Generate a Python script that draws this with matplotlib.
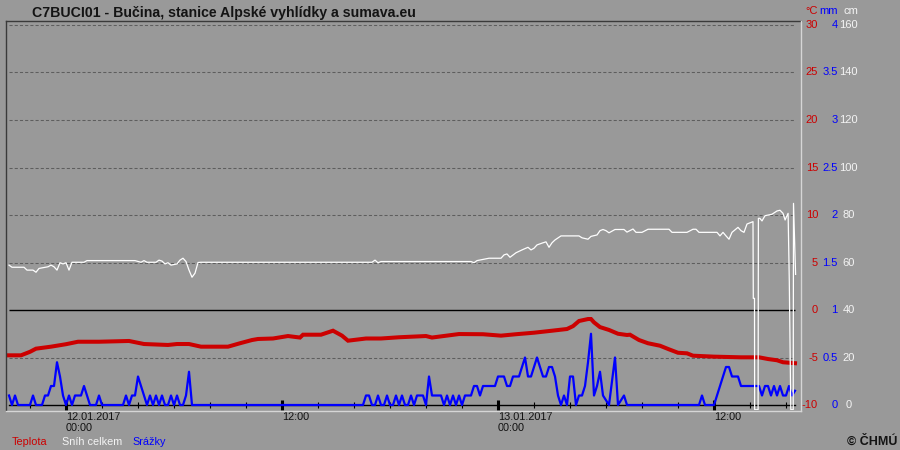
import numpy as np
import pandas as pd
import matplotlib
matplotlib.use('Agg')
import matplotlib.pyplot as plt
import matplotlib.dates as mdates
import matplotlib.transforms as mtransforms
from matplotlib.lines import Line2D

plt.rcParams['font.family'] = ['Liberation Sans', 'DejaVu Sans']

BG = '#999999'
RED = '#cc0000'
BLUE = '#0000ff'
SNOW = '#ffffff'

# 10-minute records starting 11.01.2017 20:50
start = pd.Timestamp('2017-01-11 20:50')

# precipitation in tenths of mm per 10 min
precip_tenths = [
    1, 0, 1, 0, 0, 0, 0, 0, 1, 0,
    0, 0, 1, 1, 2, 2, 4.5, 3, 1, 0,
    1, 0, 1, 1, 1, 2, 1, 0, 0, 0,
    1, 0, 0, 0, 0, 0, 0, 0, 0, 1,
    0, 1, 1, 3, 2, 1, 0, 1, 0, 1,
    0, 1, 0, 0, 1, 0, 1, 0, 0, 1,
    3.5, 0, 0, 0, 0, 0, 0, 0, 0, 0,
    0, 0, 0, 0, 0, 0, 0, 0, 0, 0,
    0, 0, 0, 0, 0, 0, 0, 0, 0, 0,
    0, 0, 0, 0, 0, 0, 0, 0, 0, 0,
    0, 0, 0, 0, 0, 0, 0, 0, 0, 0,
    0, 0, 0, 0, 0, 0, 0, 0, 0, 1,
    1, 0, 0, 1, 0, 0, 1, 0, 0, 1,
    0, 1, 0, 0, 1, 0, 1, 1, 1, 0,
    3, 1, 1, 1, 1, 0, 1, 0, 1, 0,
    1, 0, 1, 1, 1, 2, 2, 1, 2, 2,
    2, 2, 2, 3, 3, 3, 2, 2, 3, 3,
    3, 4, 5, 3, 3, 4, 5, 4, 3, 3,
    4, 4, 3, 1, 0, 1, 0, 3, 3, 0,
    1, 1, 2, 4.5, 7.5, 1, 2, 3.5, 1, 0.5,
    0, 2.5, 5, 0, 0.5, 1, 0, 0, 0, 0,
    0, 0, 0, 0, 0, 0, 0, 0, 0, 0,
    0, 0, 0, 0, 0, 0, 0, 0, 0, 0,
    0, 1, 0, 0, 0, 0, 1, 2, 3, 4,
    4, 3, 3, 3, 2, 2, 2, 2, 2, 2,
    2, 1, 2, 2, 1, 2, 1, 2, 1, 1,
    2, 1, 1.5,
]

# temperature, positions counted in 10-minute steps from start
temp_step = [0, 4, 7, 9, 14, 19, 23, 30, 40, 45, 53, 56, 60, 64, 73, 77, 81, 83,
             88, 93, 97, 98, 104, 108, 111, 113, 119, 124, 130, 139, 141, 150,
             158, 164, 169, 175, 181, 186, 188, 190, 193, 194, 195, 197, 200,
             203, 206, 207, 210, 213, 217, 220, 223, 226, 228, 235, 244, 250,
             253, 256, 258, 262]
temp_vals = [-4.77, -4.77, -4.4, -4.07, -3.86, -3.6, -3.34, -3.34, -3.26, -3.58,
             -3.68, -3.58, -3.58, -3.86, -3.86, -3.5, -3.16, -3.05, -3.0, -2.74,
             -2.9, -2.6, -2.6, -2.18, -2.7, -3.23, -3.0, -3.0, -2.87, -2.74,
             -2.9, -2.53, -2.55, -2.7, -2.55, -2.39, -2.18, -2.0, -1.7, -1.16,
             -0.95, -0.95, -1.3, -1.8, -2.1, -2.5, -2.63, -2.6, -3.16, -3.5,
             -3.76, -4.14, -4.5, -4.56, -4.81, -4.91, -4.98, -4.98, -5.16,
             -5.29, -5.5, -5.6]

# total snow depth (cm)
snow_step = [0, 1, 5, 6, 8, 9, 10, 13, 14, 15, 16, 17, 18, 19, 20, 21, 25, 26,
             42, 44, 45, 46, 49, 50, 51, 52, 53, 54, 56, 57, 58, 59, 60, 61, 62,
             63, 64, 121, 122, 123, 124, 154, 155, 156, 160, 164, 165, 166, 167,
             169, 171, 173, 174, 175, 176, 178, 179, 180, 181, 182, 184, 190,
             191, 193, 194, 196, 197, 198, 199, 200, 202, 205, 206, 208, 209,
             211, 213, 220, 221, 226, 228, 229, 230, 236, 237, 238, 239, 240,
             241, 243, 244, 245, 246, 248, 248.1, 248.5, 248.55, 249.7, 249.8,
             250.3, 251, 252, 254.3, 256, 257, 258, 258.7, 259.3, 259.7, 260.1,
             260.6, 261.4, 261.5, 262.2]
snow_vals = [58.9, 58.0, 58.0, 56.8, 56.8, 55.9, 57.5, 58.2, 58.9, 58.2, 56.8,
             59.9, 59.4, 59.9, 56.8, 60.1, 60.1, 60.8, 60.8, 60.1, 60.8, 60.1,
             60.1, 61, 60.6, 59.4, 59.9, 58.9, 59.4, 61, 61.8, 60.4, 56.8, 53.8,
             55.5, 60, 60.1, 60.1, 61, 59.9, 60.4, 60.4, 59.9, 60.8, 61.8, 61.8,
             63.2, 63.6, 62.2, 64.1, 65.3, 66.4, 65.3, 66, 67.4, 68.3, 68.7,
             66.4, 68.3, 69.5, 71.2, 71.2, 70.4, 69.8, 71, 71.6, 73.4, 73.9,
             73.4, 72.5, 73.9, 73.9, 72.8, 74.1, 72.7, 72.7, 74, 74, 72.7, 72.7,
             74, 74, 72.7, 72.7, 71.2, 72.7, 71.2, 69.8, 72.7, 74.8, 73.4, 72.7,
             76.2, 77.2, 44.9, 44.9, -2, -2, 78.6, 78.6, 77.5, 79.7, 80.3, 81.7,
             82, 80.7, 77.9, 79.7, 80.7, 51.9, -2, -2, 84.9, 55]

temp_ticks = [30, 25, 20, 15, 10, 5, 0, -5, -10]
mm_ticks = ['4', '3.5', '3', '2.5', '2', '1.5', '1', '0.5', '0']
cm_ticks = ['160', '140', '120', '100', '80', '60', '40', '20', '0']


def steps_to_time(steps):
    return start + pd.to_timedelta(np.asarray(steps, dtype=float) * 10, unit='min')


precip_time = steps_to_time(np.arange(len(precip_tenths)))
precip_mm = np.array(precip_tenths) / 10.0
temp_time = steps_to_time(temp_step)
snow_time = steps_to_time(snow_step)

W, H = 900, 450
fig = plt.figure(figsize=(W / 100, H / 100), dpi=100, facecolor=BG)


def fx(x):
    return x / W


def fy(y):
    return 1 - y / H


# plot frame 6..800 px, 21..410 px
ax = fig.add_axes([fx(6), fy(410), fx(800) - fx(6), fy(21) - fy(410)])
ax.set_facecolor(BG)

t_lo, t_hi = -10.526, 30.421
ax.set_ylim(t_lo, t_hi)
day0 = pd.Timestamp('2017-01-12 00:00')
x_lo = day0 + pd.Timedelta(hours=-60 / 18)
x_hi = day0 + pd.Timedelta(hours=734 / 18)
ax.set_xlim(mdates.date2num(x_lo), mdates.date2num(x_hi))

t0 = mdates.date2num(precip_time[0])
t1 = mdates.date2num(precip_time[-1]) + 0.001

# grid
grid_levels = [30, 25, 20, 15, 10, 5, -5]
ax.hlines(grid_levels, t0, t1, colors='#5e5e5e', linewidth=0.75,
          linestyles=(0, (3, 2)), zorder=1)
ax.hlines(0, t0, t1, colors='black', linewidth=1.0, zorder=1)

ax.plot(temp_time, temp_vals, color=RED, linewidth=2.9, zorder=3,
        solid_joinstyle='miter')

for s in ['top', 'left', 'right']:
    ax.spines[s].set_visible(False)
ax.spines['bottom'].set_position(('data', -10))
ax.spines['bottom'].set_bounds(t0, t1)
ax.spines['bottom'].set_color('black')
ax.spines['bottom'].set_linewidth(1.0)
ax.set_yticks([])

ax.xaxis.set_major_locator(mdates.HourLocator(byhour=[0, 12]))
ax.xaxis.set_minor_locator(mdates.HourLocator(byhour=range(0, 24, 2)))


def fmt_time(x, pos=None):
    d = mdates.num2date(x)
    if d.hour == 0:
        return d.strftime('%d.%m.%Y\n%H:%M')
    return d.strftime('%H:%M')


ax.xaxis.set_major_formatter(plt.FuncFormatter(fmt_time))
ax.tick_params(axis='x', which='major', direction='inout', length=6.5,
               width=2.2, color='black', pad=1.5, labelsize=7.8,
               labelcolor='#111111')
ax.tick_params(axis='x', which='minor', direction='inout', length=4.3,
               width=0.8, color='black')
plt.setp(ax.get_xticklabels(), ha='left', multialignment='left')

# precipitation and snow on their own scales
ax_p = ax.twinx()
ax_p.set_ylim((t_lo + 10) / 10, (t_hi + 10) / 10)
ax_p.axis('off')
ax_p.plot(precip_time, precip_mm, color=BLUE, linewidth=1.6, zorder=3)

ax_s = ax.twinx()
ax_s.set_ylim((t_lo + 10) * 4, (t_hi + 10) * 4)
ax_s.axis('off')
ax_s.plot(snow_time, snow_vals, color=SNOW, linewidth=0.9, zorder=4)

# right side scales
tr_c = mtransforms.blended_transform_factory(fig.transFigure, ax.transData)
tr_m = mtransforms.blended_transform_factory(fig.transFigure, ax_p.transData)
tr_s = mtransforms.blended_transform_factory(fig.transFigure, ax_s.transData)
for t, m, c in zip(temp_ticks, mm_ticks, cm_ticks):
    ax.text(fx(818), t, str(t), transform=tr_c, ha='right', va='center',
            color=RED, fontsize=8)
    ax.text(fx(837.5), float(m), m, transform=tr_m, ha='right', va='center',
            color=BLUE, fontsize=8)
    ax.text(fx(848.5), float(c), c, transform=tr_s, ha='center', va='center',
            color='#f4f4f4', fontsize=8)

fig.text(fx(818), fy(11), '°C', ha='right', va='center', color=RED, fontsize=8)
fig.text(fx(837.5), fy(11), 'mm', ha='right', va='center', color=BLUE, fontsize=8)
fig.text(fx(843), fy(11), 'cm', ha='left', va='center', color='#f4f4f4', fontsize=8)

# sunken frame
fig.add_artist(Line2D([fx(5.5), fx(5.5)], [fy(410), fy(20.5)], color='#3a3a3a', lw=1.0))
fig.add_artist(Line2D([fx(5.5), fx(800.5)], [fy(20.5), fy(20.5)], color='#3a3a3a', lw=1.0))
fig.add_artist(Line2D([fx(800.5), fx(800.5)], [fy(20.5), fy(410.5)], color='#d6d6d6', lw=1.0))
fig.add_artist(Line2D([fx(5.5), fx(800.5)], [fy(410.5), fy(410.5)], color='#d6d6d6', lw=1.0))

fig.text(fx(32), fy(16.7), 'C7BUCI01 - Bučina, stanice Alpské vyhlídky a sumava.eu',
         ha='left', va='baseline', fontsize=10.2, fontweight='bold', color='#141414')

fig.text(fx(12), fy(445), 'Teplota', ha='left', va='baseline', color=RED, fontsize=7.8)
fig.text(fx(62), fy(445), 'Sníh celkem', ha='left', va='baseline', color='#f4f4f4', fontsize=7.8)
fig.text(fx(132), fy(445), 'Srážky', ha='left', va='baseline', color=BLUE, fontsize=7.8)

fig.text(fx(897), fy(445), '© ČHMÚ', ha='right', va='baseline', fontsize=9,
         fontweight='bold', color='#141414')

fig.savefig('out.png', dpi=100, facecolor=BG)
